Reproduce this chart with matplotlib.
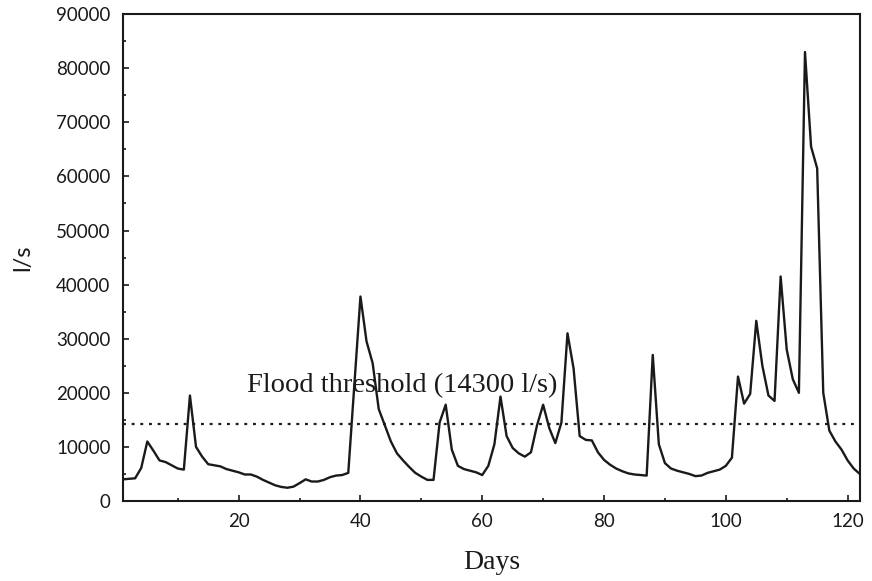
import matplotlib
matplotlib.use("Agg")
import matplotlib.pyplot as plt
from matplotlib.ticker import MultipleLocator

days = list(range(1, 123))
flow = [
    4000, 4100, 4200, 6100, 11000, 9300, 7500, 7200, 6600, 6000,      # 1-10
    5800, 19500, 10000, 8200, 6800, 6600, 6400, 5900, 5600, 5300,     # 11-20
    4900, 4900, 4500, 3900, 3400, 2900, 2600, 2450, 2650, 3300,       # 21-30
    4000, 3600, 3600, 3900, 4400, 4700, 4800, 5200, 21500, 37800,     # 31-40
    29500, 25500, 17000, 14000, 11000, 8800, 7500, 6300, 5200, 4500,  # 41-50
    3900, 3900, 14500, 17800, 9500, 6500, 5900, 5600, 5300, 4800,     # 51-60
    6500, 10500, 19300, 12000, 9800, 8800, 8200, 9000, 14000, 17800,  # 61-70
    13500, 10700, 14500, 31000, 24500, 12000, 11300, 11200, 9000, 7600,  # 71-80
    6700, 6000, 5500, 5100, 4900, 4800, 4700, 27000, 10500, 7000,     # 81-90
    6000, 5600, 5300, 5000, 4600, 4700, 5200, 5500, 5800, 6500,       # 91-100
    8000, 23000, 18000, 19800, 33300, 25000, 19500, 18500, 41500, 28000,  # 101-110
    22500, 20000, 83000, 65500, 61500, 20000, 13000, 11000, 9500, 7500,   # 111-120
    6000, 5000,                                                        # 121-122
]
threshold = 14300
threshold_label = "Flood threshold (14300 l/s)"
x_ticks = [20, 40, 60, 80, 100, 120]
y_ticks = [0, 10000, 20000, 30000, 40000, 50000, 60000, 70000, 80000, 90000]

fig = plt.figure(figsize=(8.72, 5.81), dpi=100)
ax = fig.add_axes([0.141, 0.1377, 0.845, 0.838])

ax.plot(days, flow, color="#1a1a1a", linewidth=1.7)
ax.axhline(threshold, color="#1a1a1a", linewidth=1.6, linestyle=(0, (1.3, 2.6)))
ax.text(21.3, 19000, threshold_label, fontsize=20.5, family="Liberation Serif",
        color="#1a1a1a", va="bottom", ha="left")

ax.set_xlim(1, 122)
ax.set_ylim(0, 90000)
ax.set_xticks(x_ticks)
ax.set_yticks(y_ticks)
ax.xaxis.set_minor_locator(MultipleLocator(10))
ax.yaxis.set_minor_locator(MultipleLocator(5000))
ax.tick_params(which="both", direction="in", color="#1a1a1a", width=1.2)
ax.tick_params(which="major", length=4)
ax.tick_params(which="minor", length=2)
ax.tick_params(axis="y", pad=9)
ax.tick_params(axis="x", pad=9)
for lab in ax.get_xticklabels() + ax.get_yticklabels():
    lab.set_family("Lato")
    lab.set_fontsize(13.5)
    lab.set_color("#1a1a1a")
for s in ax.spines.values():
    s.set_linewidth(1.5)
    s.set_color("#1a1a1a")

ax.set_xlabel("Days", fontsize=20, family="Liberation Serif", color="#1a1a1a", labelpad=14)
ax.set_ylabel("l/s", fontsize=17, family="Lato", color="#1a1a1a", labelpad=16)

fig.savefig("out.png", dpi=100)
